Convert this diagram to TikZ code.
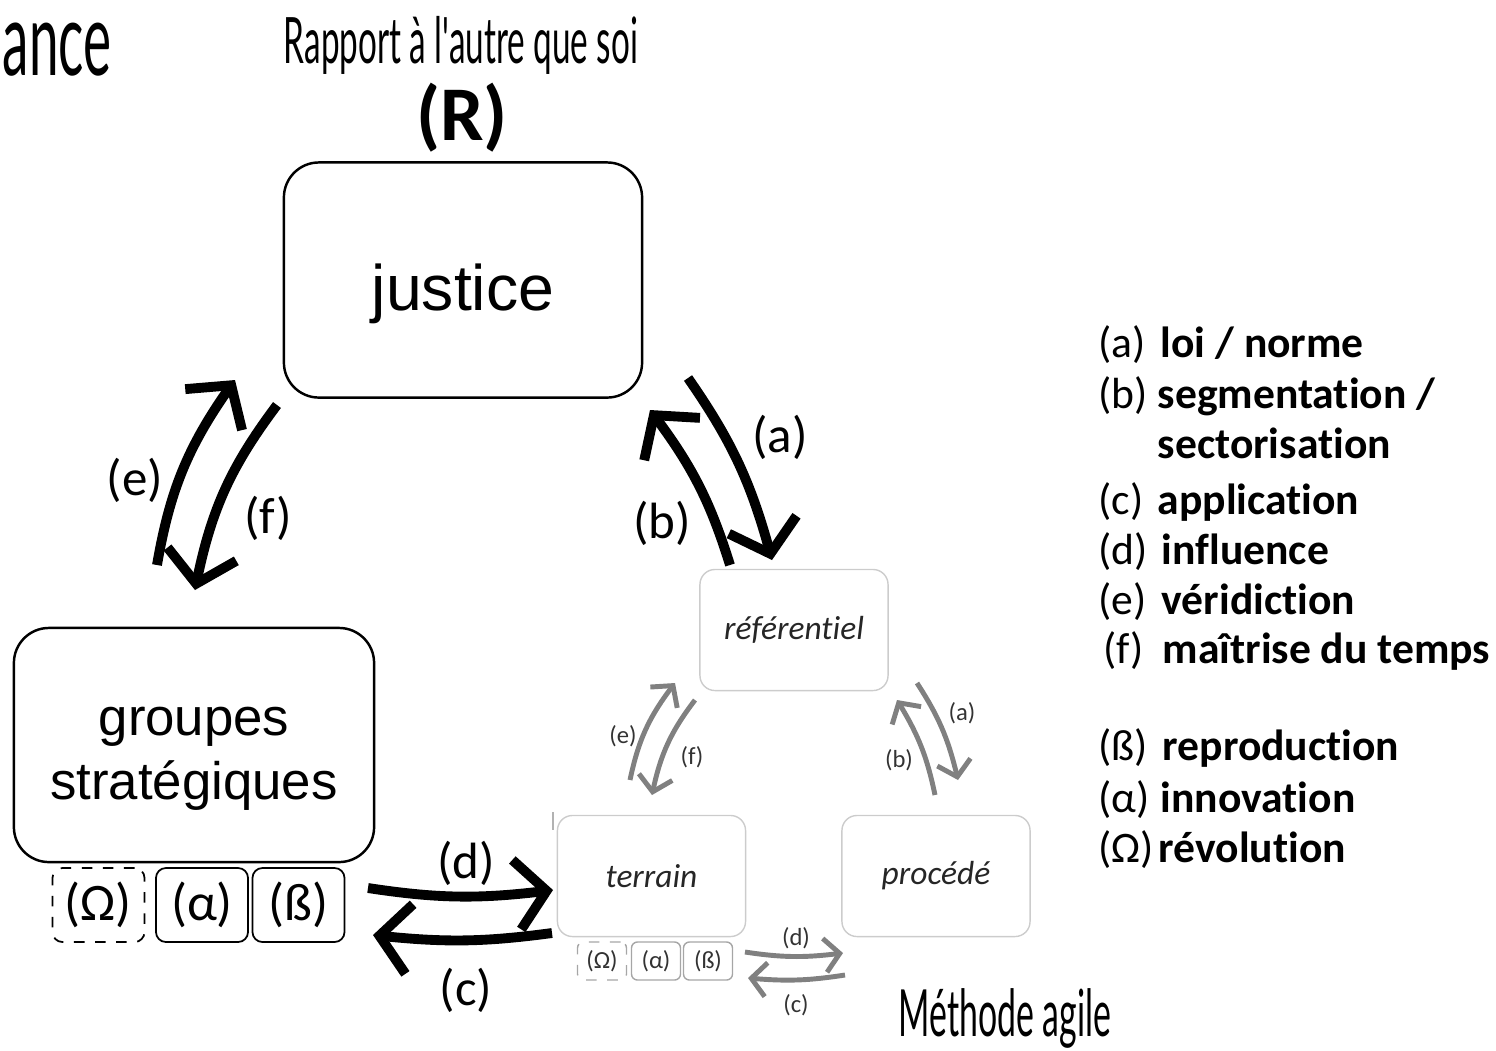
\documentclass[tikz,border=0pt]{standalone}
\usepackage{fontspec}
\setmainfont{Carlito}[Ligatures={TeX,NoCommon}]
\newfontfamily\arialf{Liberation Sans}
\newfontfamily\handf[FakeStretch=0.52]{Lato}
\usetikzlibrary{positioning,arrows.meta,bending}

\begin{document}
\begin{tikzpicture}
                [x=0.01cm, y=-0.01cm,
                 bigbox/.style = {draw, rounded corners=0.35cm, line width=0.7pt},
                 tagbox/.style = {draw, rounded corners=0.1cm, minimum width=0.92cm, minimum height=0.74cm, inner sep=0pt, line width=0.5pt, font=\fontsize{15}{15}\selectfont},
                 smallbox/.style = {draw=gray!40, rounded corners=0.15cm, minimum width=1.88cm, minimum height=1.21cm, text=black!85, font=\fontsize{9.5}{10}\selectfont\itshape},
                 smalltag/.style = {draw=gray!70, rounded corners=0.06cm, minimum width=0.49cm, minimum height=0.38cm, inner sep=0pt, line width=0.4pt, text=black!80, font=\fontsize{7}{7}\selectfont},
                 bigarrow/.style = {line width=2.8pt, -{Straight Barb[length=3mm, width=7mm]}},
                 smallarrow/.style = {line width=1.4pt, draw=gray, -{Straight Barb[length=1.5mm, width=3.4mm]}},
                 biglabel/.style = {font=\fontsize{14.5}{15}\selectfont},
                 smalllabel/.style = {text=black!80, font=\fontsize{7}{7}\selectfont}]
                \useasboundingbox (0,0) rectangle (1496,1050);
                % Titles
                \node[anchor=west, inner sep=0pt] (title) at (2,50) {\handf\fontsize{29}{29}\selectfont ance};
                \node (rapport) at (461,45) {\handf\fontsize{18.2}{18}\selectfont Rapport à l'autre que soi};
                \node (R) at (462,118) {\fontsize{22}{22}\selectfont\bfseries (R)};
                \node (agile) at (1005,1018) {\handf\fontsize{18.5}{18.5}\selectfont Méthode agile};
                % Main boxes
                \node[bigbox, minimum width=3.58cm, minimum height=2.35cm, font=\arialf\fontsize{18.3}{20}\selectfont] (justice) at (463,280) {\raisebox{-4pt}[\height][\depth]{justice}};
                \node[bigbox, minimum width=3.6cm, minimum height=2.34cm, align=center, font=\arialf\fontsize{15}{18}\selectfont] (groupes) at (194,745) {\raisebox{-4pt}[\height][\depth]{\shortstack{groupes\\[1pt]stratégiques}}};
                \node[tagbox, dashed] (omega) at (98.5,905) {(Ω)};
                \node[tagbox] (alpha) at (202,905) {(α)};
                \node[tagbox] (beta) at (298.5,905) {(ß)};
                % Agile boxes
                \node[smallbox] (referentiel) at (794,630) {référentiel};
                \node[smallbox] (terrain) at (651.5,876) {terrain};
                \node[smallbox] (procede) at (936,876) {procédé};
                \node[smalltag, dashed] (somega) at (602,961) {(Ω)};
                \node[smalltag] (salpha) at (656,961) {(α)};
                \node[smalltag] (sbeta) at (708,961) {(ß)};
                \draw[gray!60, line width=0.5pt] (553,812) -- (553,830);

                % Arrow ends
                \coordinate (e1) at (157,565);  \coordinate (e2) at (235,380);
                \coordinate (f1) at (277,405);  \coordinate (f2) at (195,590);
                \coordinate (a1) at (688,378);  \coordinate (a2) at (772,560);
                \coordinate (b1) at (730,565);  \coordinate (b2) at (650,410);
                \coordinate (d1) at (368,888);  \coordinate (d2) at (553,890);
                \coordinate (c1) at (552,933);  \coordinate (c2) at (373,935);
                \coordinate (se1) at (630,780); \coordinate (se2) at (675,683);
                \coordinate (sf1) at (695,700); \coordinate (sf2) at (652,795);
                \coordinate (sa1) at (917,683); \coordinate (sa2) at (958,780);
                \coordinate (sb1) at (935,795); \coordinate (sb2) at (897,700);
                \coordinate (sd1) at (745,952); \coordinate (sd2) at (843,953);
                \coordinate (sc1) at (845,975); \coordinate (sc2) at (748,978);

                % Big arrows
                \draw[bigarrow] (e1) to[bend left=13] (e2);
                \draw[bigarrow] (f1) to[bend right=13] (f2);
                \draw[bigarrow] (a1) to[bend left=10] (a2);
                \draw[bigarrow] (b1) to[bend right=10] (b2);
                \draw[bigarrow] (d1) to[bend right=8] (d2);
                \draw[bigarrow] (c1) to[bend left=7] (c2);
                \node[biglabel] (le) at (135,480) {(e)};
                \node[biglabel] (lf) at (268,518) {(f)};
                \node[biglabel] (la) at (780,437) {(a)};
                \node[biglabel] (lb) at (662,523) {(b)};
                \node[biglabel] (ld) at (466,863) {(d)};
                \node[biglabel] (lc) at (466,990) {(c)};

                % Small arrows
                \draw[smallarrow] (se1) to[bend left=13] (se2);
                \draw[smallarrow] (sf1) to[bend right=13] (sf2);
                \draw[smallarrow] (sa1) to[bend left=10] (sa2);
                \draw[smallarrow] (sb1) to[bend right=10] (sb2);
                \draw[smallarrow] (sd1) to[bend right=8] (sd2);
                \draw[smallarrow] (sc1) to[bend left=7] (sc2);
                \node[smalllabel] (sle) at (623,736) {(e)};
                \node[smalllabel] (slf) at (692,757) {(f)};
                \node[smalllabel] (sla) at (962,713) {(a)};
                \node[smalllabel] (slb) at (899,760) {(b)};
                \node[smalllabel] (sld) at (796,938) {(d)};
                \node[smalllabel] (slc) at (796,1005) {(c)};

                % Legend
                \begin{scope}[every node/.style={anchor=base west, inner sep=0pt, font=\fontsize{12.4}{13}\selectfont}]
                \node (ka) at (1098,357) {(a)};  \node (ta) at (1160,357) {\bfseries loi / norme};
                \node (kb) at (1098,408) {(b)};  \node (tb) at (1157,408) {\bfseries segmentation /};
                \node (tb2) at (1157,458) {\bfseries sectorisation};
                \node (kc) at (1098,514) {(c)};  \node (tc) at (1157,514) {\bfseries application};
                \node (kd) at (1098,564) {(d)};  \node (td) at (1161,564) {\bfseries influence};
                \node (ke) at (1098,614) {(e)};  \node (te) at (1161,614) {\bfseries véridiction};
                \node (kf) at (1103,663) {(f)};  \node (tf) at (1162,663) {\bfseries maîtrise du temps};
                \node (kbeta) at (1098,760) {(ß)};  \node (tbeta) at (1162,760) {\bfseries reproduction};
                \node (kalpha) at (1098,812) {(α)};  \node (talpha) at (1160,812) {\bfseries innovation};
                \node (komega) at (1098,862) {(Ω)};  \node (tomega) at (1158,862) {\bfseries révolution};
                \end{scope}
            \end{tikzpicture}
\end{document}
